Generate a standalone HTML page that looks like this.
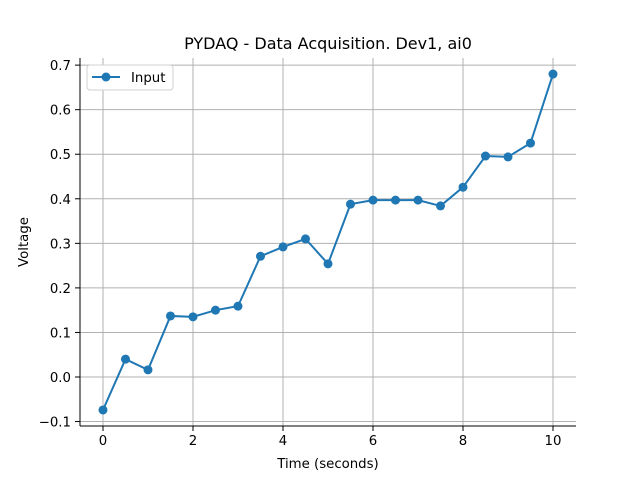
<!DOCTYPE html>
<html><head><meta charset="utf-8"><style>
body{margin:0;background:#fff;}
svg text{font-family:"DejaVu Sans","Liberation Sans",sans-serif;fill:#000;}
</style></head><body>
<svg id="chart" width="640" height="480"></svg>
<script>
const times=[0,0.5,1,1.5,2,2.5,3,3.5,4,4.5,5,5.5,6,6.5,7,7.5,8,8.5,9,9.5,10];
const voltages=[-0.074,0.040,0.016,0.137,0.135,0.150,0.159,0.271,0.292,0.310,0.254,0.388,0.397,0.397,0.397,0.384,0.426,0.496,0.494,0.525,0.680];
const xTicks=[0,2,4,6,8,10];
const yTicks=[-0.1,0.0,0.1,0.2,0.3,0.4,0.5,0.6,0.7];
const yTickLabels=["\u22120.1","0.0","0.1","0.2","0.3","0.4","0.5","0.6","0.7"];

const L=80,R=576,T=58,B=426;
const xMin=-0.511,xMax=10.511,yMin=-0.110,yMax=0.716;
const X=v=>L+(v-xMin)/(xMax-xMin)*(R-L);
const Y=v=>B-(v-yMin)/(yMax-yMin)*(B-T);
const svg=document.getElementById('chart');
const NS='http://www.w3.org/2000/svg';
function mk(tag,attrs,parent){const e=document.createElementNS(NS,tag);for(const k in attrs)e.setAttribute(k,attrs[k]);(parent||svg).appendChild(e);return e;}

xTicks.forEach(t=>{
  const g=mk('line',{x1:X(t),x2:X(t),y1:T,y2:B,stroke:'#b0b0b0','stroke-width':1});
  
  
  const tk=mk('line',{x1:X(t),x2:X(t),y1:B,y2:B+5,stroke:'#000','stroke-width':1});
  
  
  const tx=mk('text',{x:X(t),y:B+19,'text-anchor':'middle','font-size':13.3});
  tx.textContent=t;
  
  
});
yTicks.forEach((t,i)=>{
  const g=mk('line',{x1:L,x2:R,y1:Y(t),y2:Y(t),stroke:'#b0b0b0','stroke-width':1});
  
  
  const tk=mk('line',{x1:L-5,x2:L,y1:Y(t),y2:Y(t),stroke:'#000','stroke-width':1});
  
  
  const tx=mk('text',{x:L-9,y:Y(t)+5,'text-anchor':'end','font-size':13.3});
  tx.textContent=yTickLabels[i];
  
  
});
const sl=mk('line',{x1:L,x2:L,y1:T,y2:B,stroke:'#000','stroke-width':1});


const sb=mk('line',{x1:L,x2:R,y1:B,y2:B,stroke:'#000','stroke-width':1});



const pts=times.map((t,i)=>X(t)+','+Y(voltages[i])).join(' ');
const line=mk('polyline',{points:pts,fill:'none',stroke:'#1f77b4','stroke-width':2});


times.forEach((t,i)=>{
  const c=mk('circle',{cx:X(t),cy:Y(voltages[i]),r:4.5,fill:'#1f77b4'});
  
  
});

const ti=mk('text',{x:328,y:49,'text-anchor':'middle','font-size':16});
ti.textContent='PYDAQ - Data Acquisition. Dev1, ai0';


const xl=mk('text',{x:328,y:468,'text-anchor':'middle','font-size':13.3});
xl.textContent='Time (seconds)';


const yl=mk('text',{x:0,y:0,'text-anchor':'middle','font-size':13.3,transform:'translate(28,242) rotate(-90)'});
yl.textContent='Voltage';



const lg=mk('g',{});


mk('rect',{x:87,y:65,width:86,height:25,rx:3,fill:'#fff',stroke:'#d0d0d0','stroke-width':1},lg);
mk('line',{x1:92,x2:120,y1:77,y2:77,stroke:'#1f77b4','stroke-width':2},lg);
mk('circle',{cx:106,cy:77,r:4.5,fill:'#1f77b4'},lg);
const lt=mk('text',{x:131,y:82,'font-size':13.3},lg);
lt.textContent='Input';


</script>
</body></html>
